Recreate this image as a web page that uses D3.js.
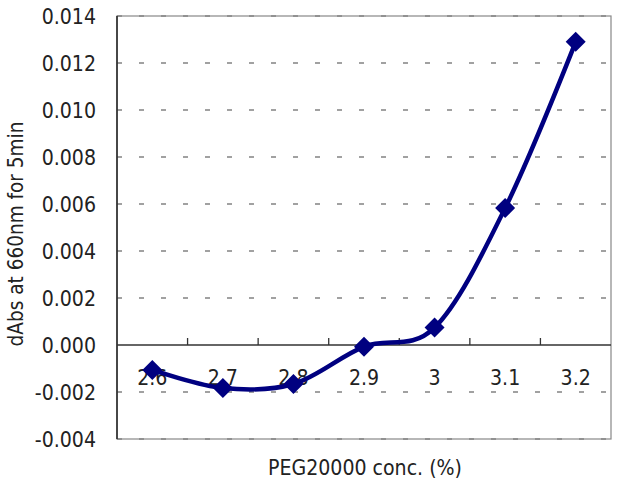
<!DOCTYPE html>
<html>
<head>
<meta charset="utf-8">
<script src="https://cdn.jsdelivr.net/npm/d3@7"></script>
<style>
html,body{margin:0;padding:0;background:#fff;}
svg text{font-family:"DejaVu Sans",sans-serif;fill:#222;}
</style>
</head>
<body>
<svg id="chart" width="619" height="480"></svg>
<script>
const categories = ["2.6","2.7","2.8","2.9","3","3.1","3.2"];
const values = [-0.00106,-0.00183,-0.00166,-0.00007,0.00074,0.00583,0.0129];
const yTicks = [-0.004,-0.002,0,0.002,0.004,0.006,0.008,0.010,0.012,0.014];
const xTitle = "PEG20000 conc. (%)";
const yTitle = "dAbs at 660nm for 5min";

const svg = d3.select("#chart");
const L = 117, R = 611, T = 16, B = 439;
const SY = 1.12;
const x = d3.scaleBand().domain(categories).range([L, R]);
const y = d3.scaleLinear().domain([-0.004, 0.014]).range([B, T]);

// gridlines (dashed)
svg.append("g").selectAll("line").data(yTicks).join("line")
  .attr("x1", L).attr("x2", R)
  .attr("y1", d => y(d)).attr("y2", d => y(d))
  .attr("stroke", d => d === 0 ? "none" : "#444")
  .attr("stroke-width", 1.2)
  .attr("stroke-dasharray", "5,17");

// plot border
svg.append("rect").attr("x", L).attr("y", T).attr("width", R - L).attr("height", B - T)
  .attr("fill", "none").attr("stroke", "#888").attr("stroke-width", 1.2);

// left axis
svg.append("line").attr("x1", L).attr("x2", L).attr("y1", T).attr("y2", B)
  .attr("stroke", "#222").attr("stroke-width", 1.5);

// y labels
svg.append("g").selectAll("text").data(yTicks).join("text")
  .attr("transform", d => `translate(96,${y(d) + 7.8}) scale(1,${SY})`)
  .attr("text-anchor", "end").attr("font-size", 19)
  .text(d => d3.format(".3f")(d).replace("−", "-"));

// x axis at zero
const y0 = y(0);
svg.append("line").attr("x1", L).attr("x2", R).attr("y1", y0).attr("y2", y0)
  .attr("stroke", "#333").attr("stroke-width", 1.3);
const bounds = categories.slice(1).map(c => x(c));
svg.append("g").selectAll("line").data(bounds).join("line")
  .attr("x1", d => d).attr("x2", d => d).attr("y1", y0).attr("y2", y0 - 7)
  .attr("stroke", "#333").attr("stroke-width", 1.3);

// x labels
svg.append("g").selectAll("text").data(categories).join("text")
  .attr("transform", d => `translate(${x(d) + x.bandwidth() / 2},385) scale(1,${SY})`)
  .attr("text-anchor", "middle").attr("font-size", 19)
  .text(d => d);

// line
const pts = categories.map((c, i) => [x(c) + x.bandwidth() / 2, y(values[i])]);
svg.append("path").datum(pts)
  .attr("d", d3.line().curve(d3.curveCardinal.tension(0)))
  .attr("fill", "none").attr("stroke", "#000080").attr("stroke-width", 4.5)
  .attr("stroke-linejoin", "round");

// markers
const s = 10;
svg.append("g").selectAll("path").data(pts).join("path")
  .attr("d", d => `M${d[0]},${d[1]-s}L${d[0]+s},${d[1]}L${d[0]},${d[1]+s}L${d[0]-s},${d[1]}Z`)
  .attr("fill", "#000080");

// titles
svg.append("text").attr("transform", `translate(365,475) scale(1,${SY})`)
  .attr("text-anchor", "middle").attr("font-size", 19).text(xTitle);
svg.append("text").attr("transform", `translate(23,234) rotate(-90) scale(1,${SY})`)
  .attr("text-anchor", "middle").attr("font-size", 18.5).text(yTitle);
</script>
</body>
</html>
